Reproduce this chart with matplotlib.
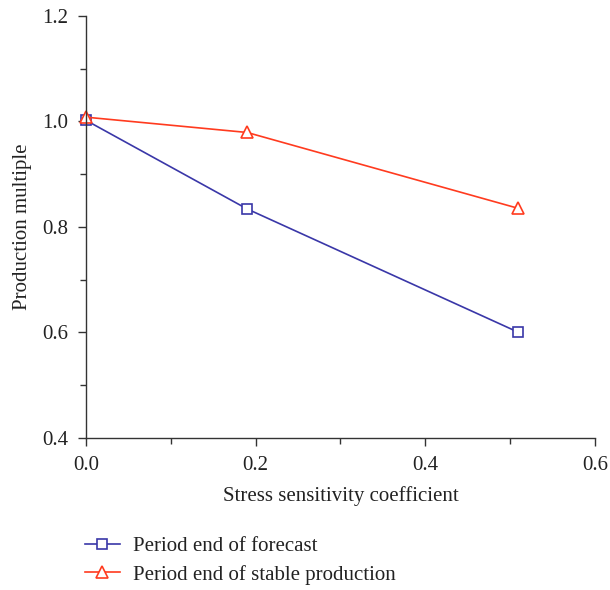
import matplotlib.pyplot as plt
from matplotlib.ticker import MultipleLocator

plt.rcParams['font.family'] = ['Liberation Serif', 'DejaVu Serif']

coef = [0.0, 0.19, 0.51]
forecast = [1.002, 0.834, 0.600]     # period end of forecast
stable = [1.008, 0.979, 0.835]       # period end of stable production

fig = plt.figure(figsize=(6.1, 5.9), dpi=100)
ax = fig.add_axes([0.141, 0.258, 0.834, 0.715])

ax.plot(coef, forecast, color='#3a37a8', lw=1.2, marker='s', ms=7,
        mfc='white', mec='#3a37a8', mew=1.2, label='Period end of forecast', clip_on=False)
ax.plot(coef, stable, color='#ff3b1f', lw=1.2, marker='^', ms=8.5,
        mfc='white', mec='#ff3b1f', mew=1.2, label='Period end of stable production', clip_on=False)

ax.set_xlim(0, 0.6)
ax.set_ylim(0.4, 1.2)
ax.xaxis.set_major_locator(MultipleLocator(0.2))
ax.xaxis.set_minor_locator(MultipleLocator(0.1))
ax.yaxis.set_major_locator(MultipleLocator(0.2))
ax.yaxis.set_minor_locator(MultipleLocator(0.1))
ax.xaxis.set_major_formatter(lambda v, p: f"{v:.1f}")
ax.yaxis.set_major_formatter(lambda v, p: f"{v:.1f}")

for s in ['top', 'right']:
    ax.spines[s].set_visible(False)
for s in ['left', 'bottom']:
    ax.spines[s].set_color('#333333')
    ax.spines[s].set_linewidth(1.0)
ax.tick_params(which='both', direction='out', color='#333333', width=1.0, labelsize=15, labelcolor='#222222')
ax.tick_params(which='major', length=6, pad=7)
ax.tick_params(which='minor', length=4)

ax.set_xlabel('Stress sensitivity coefficient', fontsize=15, color='#222222', labelpad=8)
ax.set_ylabel('Production multiple', fontsize=15, color='#222222', labelpad=7)

fig.legend(loc='upper left', bbox_to_anchor=(0.139, 0.09), frameon=False, fontsize=15,
           handlelength=1.7, handletextpad=0.6, labelspacing=0.4, labelcolor='#222222',
           borderaxespad=0, borderpad=0)

fig.savefig('out.png', dpi=100)
